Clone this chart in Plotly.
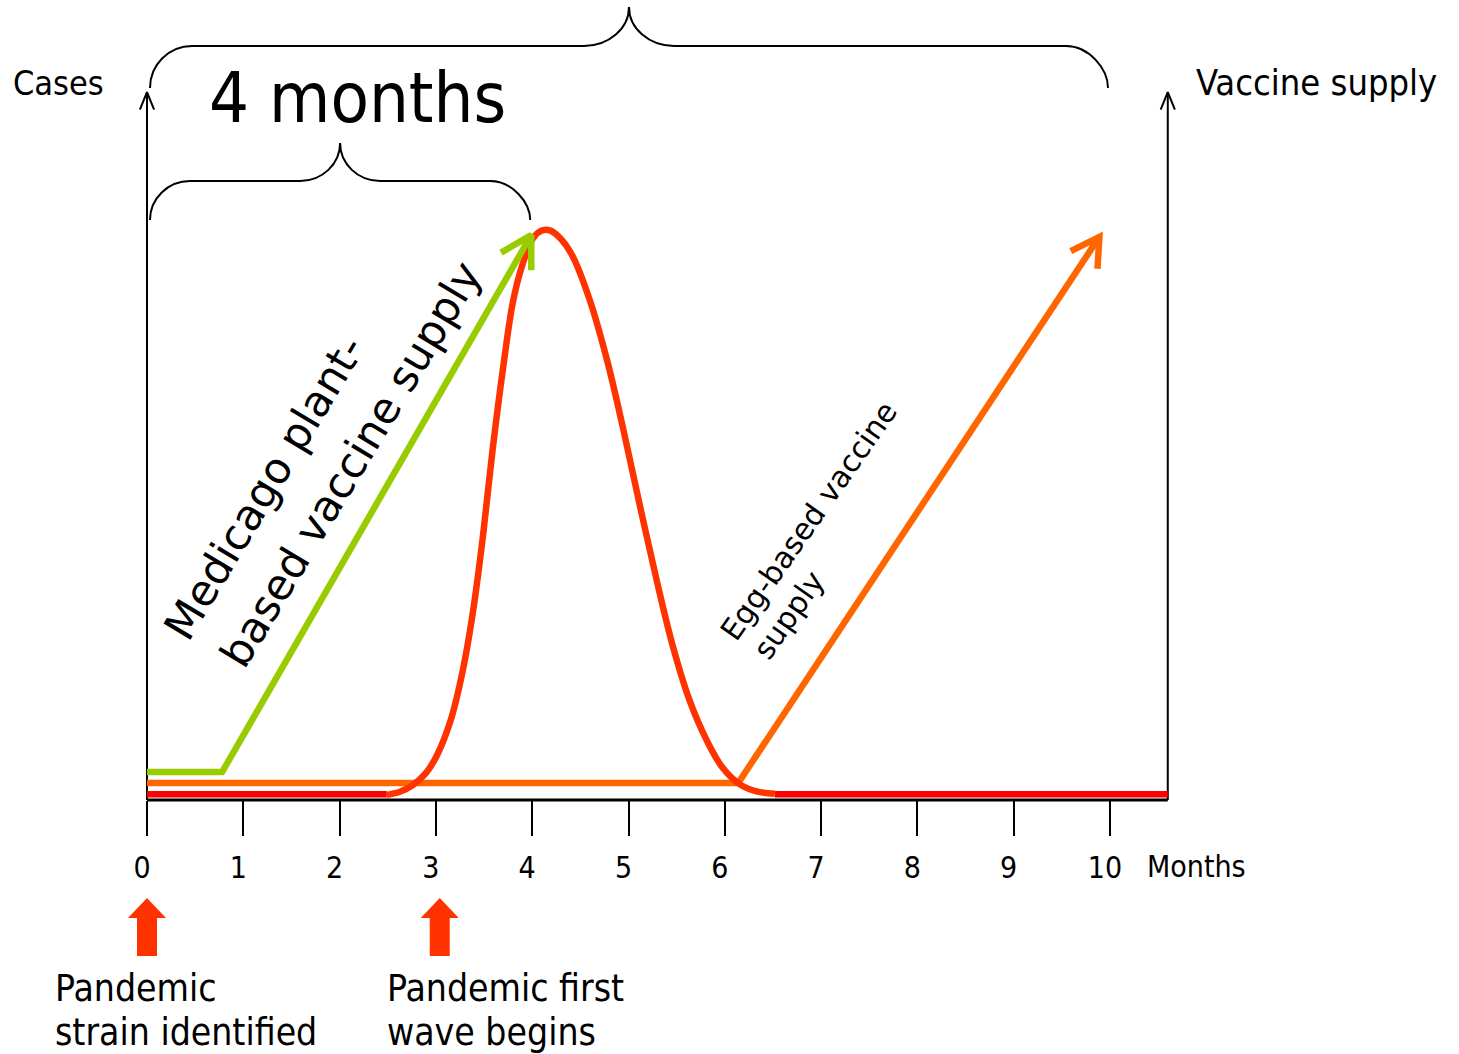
import math
import plotly.graph_objects as go

# ---------------- data (months / relative level) ----------------
months_ticks = [0, 1, 2, 3, 4, 5, 6, 7, 8, 9, 10]
tick_labels = [str(m) for m in months_ticks]

# pandemic cases curve
cases_x = [2.49, 2.62, 2.76, 2.90, 3.01, 3.15, 3.28, 3.39, 3.49, 3.59, 3.70, 3.80, 3.90, 4.01,
           4.10, 4.19, 4.30, 4.42, 4.60, 4.78, 4.94, 5.12, 5.30, 5.46, 5.64, 5.82, 5.98,
           6.16, 6.33, 6.52]
cases_y = [0.9, 1.4, 2.6, 4.8, 7.8, 13.8, 22.8, 33.6, 46.5, 61.6, 76.1, 87.4, 94.0, 98.6,
           99.9, 99.9, 98.4, 95.4, 87.6, 77.0, 65.5, 51.5, 38.0, 27.0, 17.2, 10.2, 5.6,
           2.7, 1.5, 1.1]
cases_base_left_x = [0, 2.49]
cases_base_right_x = [6.52, 10.6]
cases_base_y = 1.0

# Medicago plant-based vaccine supply
plant_x = [0, 0.78, 3.99]
plant_y = [4.9, 4.9, 99.1]

# Egg-based vaccine supply
egg_x = [0, 6.14, 9.89]
egg_y = [3.0, 3.0, 98.8]

# events (month)
event_months = [0, 3.04]
event_labels = [["Pandemic", "strain identified"], ["Pandemic first", "wave begins"]]

# braces (month spans)
brace_spans = [[0, 4], [0, 10]]

axis_top = 124.2
x_axis_end = 10.6

# ---------------- layout helpers ----------------
W, H = 1459, 1054
PX0, PXM = 147.0, 96.3     # pixel of month 0, pixels per month
PY0, PYU = 800.0, 5.7      # pixel of level 0, pixels per unit


def to_px(x, y):
    return PX0 + x * PXM, PY0 - y * PYU


def to_data(px, py):
    return (px - PX0) / PXM, (PY0 - py) / PYU


def px_paper(px, py):
    return px / W, 1 - py / H


RED = "#FF0000"
CURVE = "#FF3300"
GREEN = "#99CC00"
ORANGE = "#FF6600"
COND = "DejaVu Sans Condensed, Liberation Sans Narrow, sans-serif"
NORM = "DejaVu Sans, Verdana, sans-serif"
LW = 6.5

fig = go.Figure()


def line(xs, ys, color, width):
    fig.add_trace(go.Scatter(x=xs, y=ys, mode="lines", line=dict(color=color, width=width),
                             hoverinfo="skip", showlegend=False))


def arrowhead(x_tip, y_tip, x_from, y_from, color, width, length, spread=30):
    tx, ty = to_px(x_tip, y_tip)
    fx, fy = to_px(x_from, y_from)
    ang = math.atan2(fy - ty, fx - tx)
    pts = []
    for s in (spread, -spread):
        a = ang + math.radians(s)
        pts.append(to_data(tx + length * math.cos(a), ty + length * math.sin(a)))
    t = (x_tip, y_tip)
    line([pts[0][0], t[0], pts[1][0]], [pts[0][1], t[1], pts[1][1]], color, width)


# axes (drawn lines)
line([0, x_axis_end], [0, 0], "black", 3)
line([0, 0], [0, axis_top], "black", 2)
line([x_axis_end, x_axis_end], [0, axis_top], "black", 2)
arrowhead(0, axis_top, 0, 0, "black", 2, 19, 22)
arrowhead(x_axis_end, axis_top, x_axis_end, 0, "black", 2, 19, 22)

# baselines
line(cases_base_left_x, [cases_base_y] * 2, RED, LW)
line(cases_base_right_x, [cases_base_y] * 2, RED, LW)

# egg supply
line(egg_x, egg_y, ORANGE, LW)
arrowhead(egg_x[-1], egg_y[-1], egg_x[-2], egg_y[-2], ORANGE, LW, 32, 30)

# cases curve
fig.add_trace(go.Scatter(x=cases_x, y=cases_y, mode="lines",
                         line=dict(color=CURVE, width=LW, shape="spline", smoothing=1.0),
                         hoverinfo="skip", showlegend=False))

# plant supply (drawn above the curve)
line(plant_x, plant_y, GREEN, LW)
arrowhead(plant_x[-1], plant_y[-1], plant_x[-2], plant_y[-2], GREEN, LW, 35, 30)

# event block arrows
for m in event_months:
    cx, _ = to_px(m, 0)
    poly_px = [(cx - 10, 956), (cx - 10, 918), (cx - 19, 918), (cx, 898),
               (cx + 19, 918), (cx + 10, 918), (cx + 10, 956), (cx - 10, 956)]
    pts = [to_data(a, b) for a, b in poly_px]
    fig.add_trace(go.Scatter(x=[p[0] for p in pts], y=[p[1] for p in pts], mode="lines",
                             fill="toself", fillcolor=CURVE, line=dict(color=CURVE, width=0),
                             hoverinfo="skip", showlegend=False))


# braces
def brace_path(x0, x1, ybar, ytip, yend, rx, rtx):
    k = 0.552
    x0p, _ = to_px(x0, 0)
    x1p, _ = to_px(x1, 0)
    x0p += 3
    x1p -= 2
    tip = (x0p + x1p) / 2
    P = []

    def d(px, py):
        a, b = to_data(px, py)
        return f"{a:.4f},{b:.4f}"

    P.append("M" + d(x0p, yend))
    P.append("C" + d(x0p, yend + k * (ybar - yend)) + " " + d(x0p + rx - k * rx, ybar) + " " + d(x0p + rx, ybar))
    P.append("L" + d(tip - rtx, ybar))
    P.append("C" + d(tip - rtx + k * rtx, ybar) + " " + d(tip, ytip + k * (ybar - ytip)) + " " + d(tip, ytip))
    P.append("C" + d(tip, ytip + k * (ybar - ytip)) + " " + d(tip + rtx - k * rtx, ybar) + " " + d(tip + rtx, ybar))
    P.append("L" + d(x1p - rx, ybar))
    P.append("C" + d(x1p - rx + k * rx, ybar) + " " + d(x1p, ybar + k * (yend - ybar)) + " " + d(x1p, yend))
    return " ".join(P)


brace_geom = [(181, 143, 220, 40, 40), (46, 7, 88, 42, 45)]
for span, (ybar, ytip, yend, rx, rtx) in zip(brace_spans, brace_geom):
    fig.add_shape(type="path", xref="x", yref="y",
                  path=brace_path(span[0], span[1], ybar, ytip, yend, rx, rtx),
                  line=dict(color="black", width=2))


# annotations
def ann(text, px, py, size, family=COND, angle=0, xanchor="center"):
    xp, yp = px_paper(px, py)
    fig.add_annotation(text=text, x=xp, y=yp, xref="paper", yref="paper", showarrow=False,
                       font=dict(size=size, family=family, color="black"), textangle=angle,
                       xanchor=xanchor, yanchor="middle")


ann("Cases", 58, 83, 34)
ann("Vaccine supply", 1316, 83, 36)
ann("4 months", 357, 98, 70)
ann("Months", 1196, 866, 30)
for m, lines_ in zip(event_months, event_labels):
    cx, _ = to_px(m, 0)
    left = cx - 94 if m == 0 else cx - 55
    ann(lines_[0], left, 988, 37, xanchor="left")
    ann(lines_[1], left, 1032, 37, xanchor="left")

ann("Medicago plant-", 264, 488, 43, NORM, -59)
ann("based vaccine supply", 351, 464, 43, NORM, -59)
ann("Egg-based vaccine", 808, 521, 30, NORM, -55)
ann("supply", 788, 615, 30, NORM, -55)

xr = [to_data(0, 0)[0], to_data(W, 0)[0]]
yr = [to_data(0, H)[1], to_data(0, 0)[1]]

fig.update_layout(
    width=W, height=H, margin=dict(l=0, r=0, t=0, b=0),
    paper_bgcolor="white", plot_bgcolor="white", showlegend=False,
    xaxis=dict(range=xr, domain=[0, 1], anchor="free", position=(H - PY0) / H,
               tickvals=months_ticks, ticktext=tick_labels, ticks="outside", ticklen=35,
               tickwidth=2, tickcolor="black", showline=False, showgrid=False, zeroline=False,
               ticklabelstandoff=6, ticklabelshift=-5,
               tickfont=dict(size=30, family=COND, color="black"), fixedrange=True),
    yaxis=dict(range=yr, domain=[0, 1], visible=False, fixedrange=True),
)

fig.write_html("out.html", config={"displayModeBar": False},
               post_script="document.body.style.margin='0';document.body.style.overflow='hidden';")
